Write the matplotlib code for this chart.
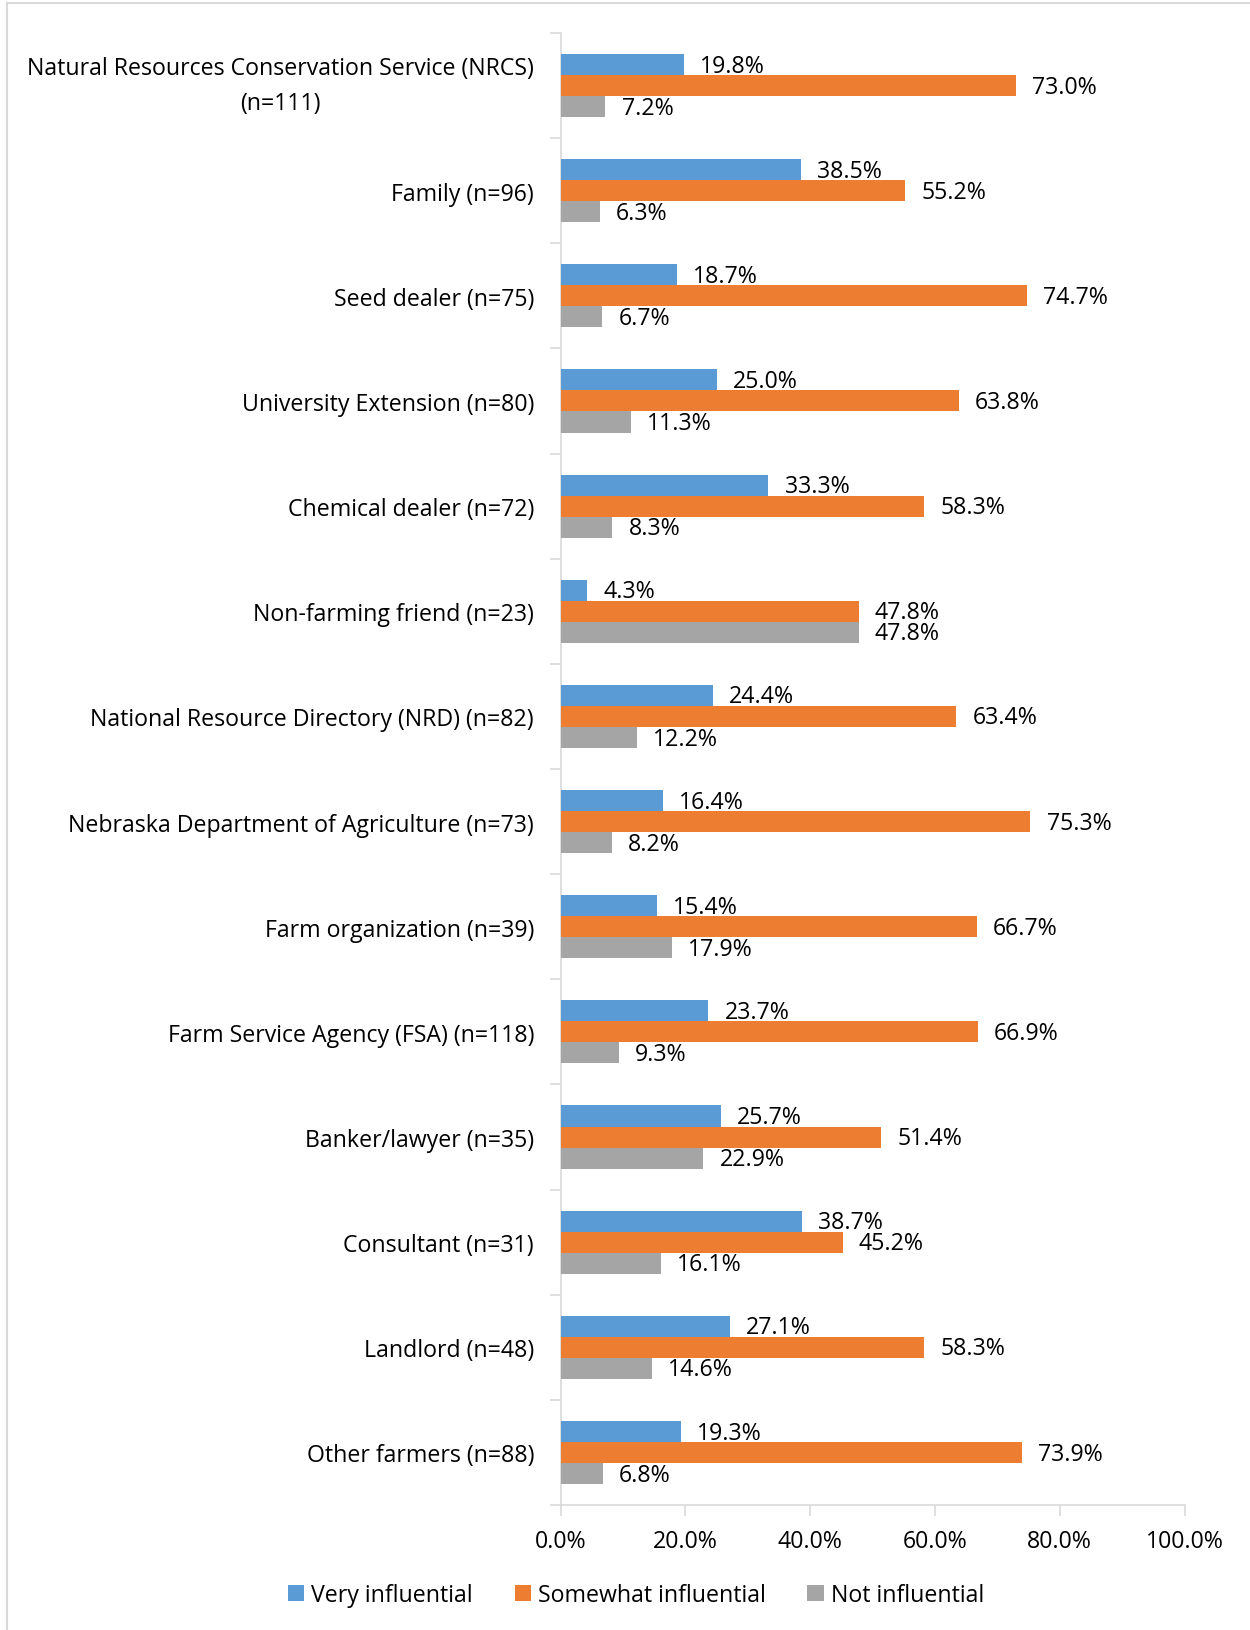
import numpy as np
import matplotlib
matplotlib.use("Agg")
import matplotlib.pyplot as plt
from matplotlib.lines import Line2D

# data
categories = [
    "Natural Resources Conservation Service (NRCS)\n(n=111)",
    "Family (n=96)",
    "Seed dealer (n=75)",
    "University Extension (n=80)",
    "Chemical dealer (n=72)",
    "Non-farming friend (n=23)",
    "National Resource Directory (NRD) (n=82)",
    "Nebraska Department of Agriculture (n=73)",
    "Farm organization (n=39)",
    "Farm Service Agency (FSA) (n=118)",
    "Banker/lawyer (n=35)",
    "Consultant (n=31)",
    "Landlord (n=48)",
    "Other farmers (n=88)",
]
very = [19.8, 38.5, 18.7, 25.0, 33.3, 4.3, 24.4, 16.4, 15.4, 23.7, 25.7, 38.7, 27.1, 19.3]
somewhat = [73.0, 55.2, 74.7, 63.8, 58.3, 47.8, 63.4, 75.3, 66.7, 66.9, 51.4, 45.2, 58.3, 73.9]
not_infl = [7.2, 6.3, 6.7, 11.3, 8.3, 47.8, 12.2, 8.2, 17.9, 9.3, 22.9, 16.1, 14.6, 6.8]
series_names = ["Very influential", "Somewhat influential", "Not influential"]
colors = ["#5b9bd5", "#ed7d31", "#a5a5a5"]

plt.rcParams['font.family'] = ['Open Sans', 'DejaVu Sans']
FS = 16.7

fig = plt.figure(figsize=(12.5, 16.31), dpi=100)
ax = fig.add_axes([0.4484, 0.0766, 0.4992, 0.9026])

y = np.arange(len(categories))
h = 0.2
for i, (vals, name, col) in enumerate(zip([very, somewhat, not_infl], series_names, colors)):
    pos = y + (i - 1) * h
    ax.barh(pos, vals, height=h, color=col, label=name, zorder=3)
    for p, v in zip(pos, vals):
        ax.text(v + 2.6, p + 0.01, f"{v:.1f}%", va="center", ha="left", fontsize=FS, color="#000000")

ax.set_xlim(0, 100)
ax.set_ylim(len(categories) - 0.5, -0.5)
ax.set_xticks(np.arange(0, 101, 20))
ax.set_xticklabels([f"{t:.1f}%" for t in np.arange(0, 101, 20)], fontsize=FS)
ax.set_yticks(y)
ax.set_yticklabels(categories, fontsize=FS, linespacing=1.6)
ax.set_yticks(np.arange(-0.5, len(categories), 1), minor=True)

for s in ["top", "right"]:
    ax.spines[s].set_visible(False)
for s in ["left", "bottom"]:
    ax.spines[s].set_color("#d9d9d9")
    ax.spines[s].set_linewidth(1.2)

ax.tick_params(axis="y", which="major", length=0, pad=19)
ax.tick_params(axis="y", which="minor", length=8, color="#d9d9d9", width=1.2)
ax.tick_params(axis="x", length=8, color="#d9d9d9", width=1.2, pad=9)

# center the two-line label like Excel does
first = ax.get_yticklabels()[0]
first.set_multialignment("center")
first.set_verticalalignment("center")

ax.legend(loc="center", bbox_to_anchor=(0.121, -0.061), ncol=3, frameon=False,
          fontsize=FS, handlelength=0.7, handleheight=0.7, handletextpad=0.3,
          columnspacing=1.8)

# outer chart frame (left & top edges visible in the reference)
fig.add_artist(Line2D([0.0056, 0.0056], [0, 0.9975], color="#d9d9d9", lw=1.5, transform=fig.transFigure))
fig.add_artist(Line2D([0.0056, 1.0], [0.9975, 0.9975], color="#d9d9d9", lw=1.5, transform=fig.transFigure))

fig.savefig("out.png", dpi=100)
